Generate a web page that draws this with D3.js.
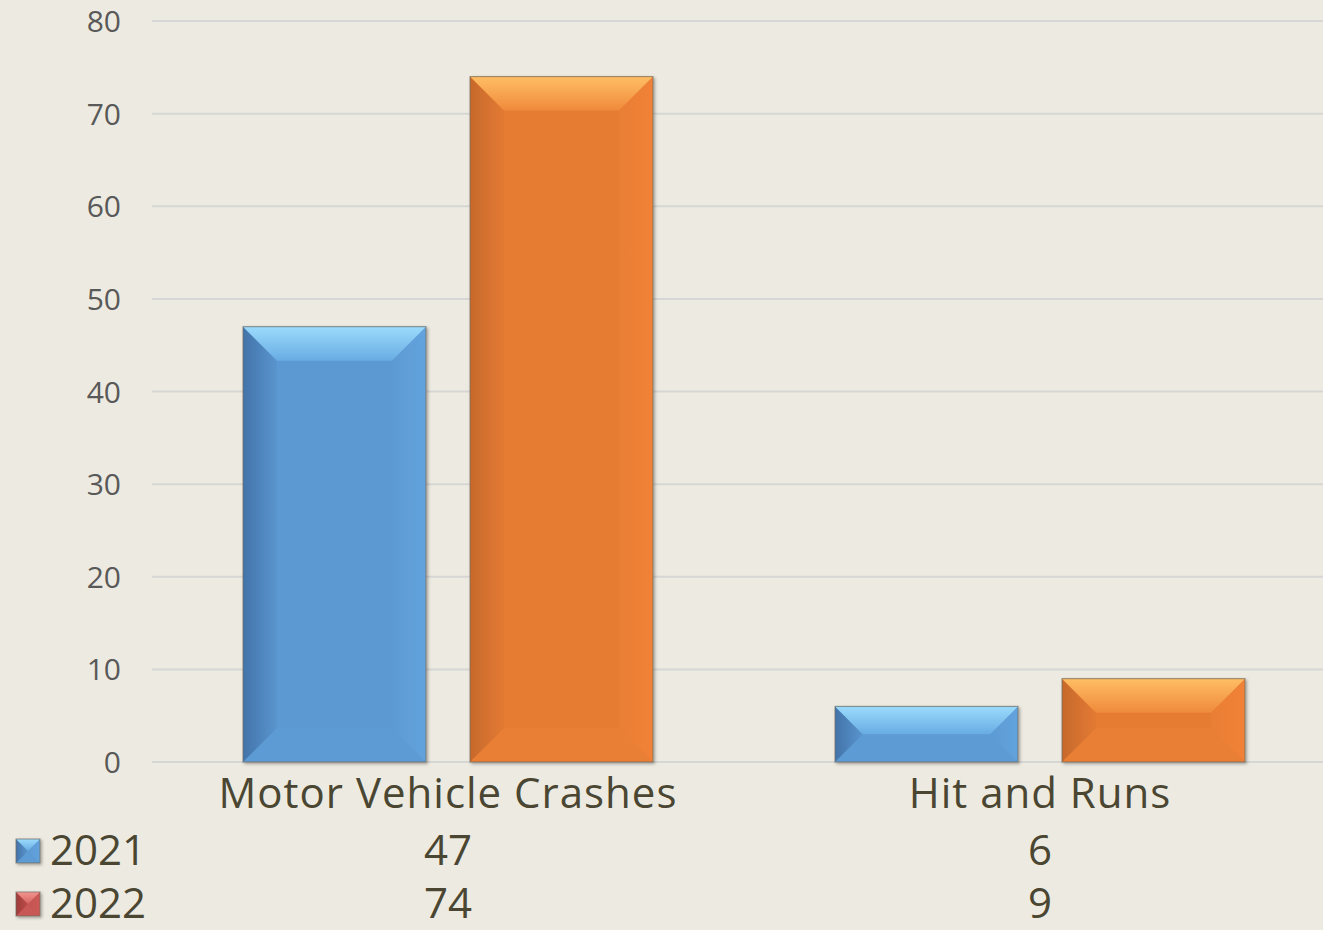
<!DOCTYPE html>
<html>
<head>
<meta charset="utf-8">
<script src="https://cdn.jsdelivr.net/npm/d3@7"></script>
<style>
  html, body { margin: 0; padding: 0; background: #EDEBE1; overflow: hidden; }
  svg { display: block; }
</style>
</head>
<body>
<svg id="chart" width="1323" height="930"></svg>
<script>
const categories = ["Motor Vehicle Crashes", "Hit and Runs"];
const seriesNames = ["2021", "2022"];
const values2021 = [47, 6];
const values2022 = [74, 9];
const yTicks = [0, 10, 20, 30, 40, 50, 60, 70, 80];

const W = 1323, H = 930;
const svg = d3.select("#chart");
const FONT = "'Open Sans', 'DejaVu Sans', sans-serif";

const plotLeft = 152, plotRight = 1336, plotTop = 21, plotBottom = 762;

const x0 = d3.scaleBand().domain(categories).range([plotLeft, plotRight]).padding(0);
const x1 = d3.scaleBand().domain(seriesNames).range([0, x0.bandwidth()])
  .paddingInner(44 / 227).paddingOuter(91 / 227);
const y = d3.scaleLinear().domain([0, 80]).range([plotBottom, plotTop]);

const defs = svg.append("defs");
const palettes = {
  blue:   { face: "#5B98D1", topA: "#9BDBFC", topB: "#68ACE3", leftA: "#4273A9", leftB: "#5A95CE", rightA: "#5C9AD3", rightB: "#63A3DD", bottom: "#5D9BD5" },
  orange: { face: "#E67C33", topA: "#FFBE64", topB: "#EF8A3B", leftA: "#C7692B", leftB: "#E27A33", rightA: "#E97E34", rightB: "#F08237", bottom: "#E97E35" },
  red:    { face: "#C0504D", topA: "#F29591", topB: "#D7635F", leftA: "#9E3B38", leftB: "#BC4E4B", rightA: "#C45451", rightB: "#CC5B57", bottom: "#C85855" }
};
Object.entries(palettes).forEach(([k, p]) => {
  const gt = defs.append("linearGradient").attr("id", "top-" + k).attr("x1", 0).attr("y1", 0).attr("x2", 0).attr("y2", 1);
  gt.append("stop").attr("offset", "0%").attr("stop-color", p.topA);
  gt.append("stop").attr("offset", "100%").attr("stop-color", p.topB);
  const gl = defs.append("linearGradient").attr("id", "left-" + k).attr("x1", 0).attr("y1", 0).attr("x2", 1).attr("y2", 0);
  gl.append("stop").attr("offset", "0%").attr("stop-color", p.leftA);
  gl.append("stop").attr("offset", "100%").attr("stop-color", p.leftB);
  const gr = defs.append("linearGradient").attr("id", "right-" + k).attr("x1", 0).attr("y1", 0).attr("x2", 1).attr("y2", 0);
  gr.append("stop").attr("offset", "0%").attr("stop-color", p.rightA);
  gr.append("stop").attr("offset", "100%").attr("stop-color", p.rightB);
});
const shadow = defs.append("filter").attr("id", "shadow").attr("x", "-10%").attr("y", "-10%").attr("width", "130%").attr("height", "130%");
shadow.append("feDropShadow").attr("dx", 1.5).attr("dy", 1.5).attr("stdDeviation", 1.5).attr("flood-color", "#000").attr("flood-opacity", 0.35);

function bevelBox(g, x, yy, w, h, key, bMax) {
  const p = palettes[key];
  const b = Math.min(bMax, h / 2, w / 2);
  const grp = g.append("g").attr("filter", "url(#shadow)");
  grp.append("rect").attr("x", x).attr("y", yy).attr("width", w).attr("height", h).attr("fill", p.face);
  const pts = a => a.map(q => q.join(",")).join(" ");
  grp.append("polygon").attr("points", pts([[x, yy + h], [x + b, yy + h - b], [x + w - b, yy + h - b], [x + w, yy + h]])).attr("fill", p.bottom);
  grp.append("polygon").attr("points", pts([[x, yy], [x + b, yy + b], [x + b, yy + h - b], [x, yy + h]])).attr("fill", `url(#left-${key})`);
  grp.append("polygon").attr("points", pts([[x + w, yy], [x + w - b, yy + b], [x + w - b, yy + h - b], [x + w, yy + h]])).attr("fill", `url(#right-${key})`);
  grp.append("polygon").attr("points", pts([[x, yy], [x + w, yy], [x + w - b, yy + b], [x + b, yy + b]])).attr("fill", `url(#top-${key})`);
  grp.append("rect").attr("x", x).attr("y", yy).attr("width", w).attr("height", h)
    .attr("fill", "none").attr("stroke", "#6f6a60").attr("stroke-opacity", 0.6).attr("stroke-width", 1.2);
}

// gridlines
svg.append("g").selectAll("line").data(yTicks).join("line")
  .attr("x1", plotLeft).attr("x2", W)
  .attr("y1", d => y(d)).attr("y2", d => y(d))
  .attr("stroke", "#D6D6D4").attr("stroke-width", 2);

// y axis labels
const yAxis = d3.axisLeft(y).tickValues(yTicks).tickSize(0).tickPadding(0).tickFormat(d3.format("d"));
const ya = svg.append("g").attr("transform", `translate(121,0)`).call(yAxis);
ya.select(".domain").remove();
ya.selectAll("text").attr("font-family", FONT).attr("font-size", 30).attr("fill", "#595959").attr("dy", "0.35em");

// bars
const data = categories.map((c, i) => ({ cat: c, vals: [ { s: "2021", v: values2021[i], key: "blue" }, { s: "2022", v: values2022[i], key: "orange" } ] }));
const barsG = svg.append("g");
data.forEach(d => {
  d.vals.forEach(v => {
    const bx = x0(d.cat) + x1(v.s);
    bevelBox(barsG, bx, y(v.v), x1.bandwidth(), y(0) - y(v.v), v.key, 34);
  });
});

// category labels
svg.append("g").selectAll("text").data(categories).join("text")
  .attr("x", d => x0(d) + x0.bandwidth() / 2)
  .attr("y", 808)
  .attr("text-anchor", "middle")
  .attr("font-family", FONT).attr("font-size", 42).attr("letter-spacing", 1)
  .attr("fill", "#4A4632")
  .text(d => d);

// data table
const rows = [ { name: "2021", vals: values2021, key: "blue", yc: 850 }, { name: "2022", vals: values2022, key: "red", yc: 903 } ];
rows.forEach(r => {
  bevelBox(svg, 16, r.yc - 11, 24, 24, r.key, 12);
  svg.append("text").attr("x", 50).attr("y", r.yc).attr("dy", "0.36em")
    .attr("font-family", FONT).attr("font-size", 42).attr("fill", "#4A4632").text(r.name);
  svg.append("g").selectAll("text").data(categories).join("text")
    .attr("x", (d) => x0(d) + x0.bandwidth() / 2)
    .attr("y", r.yc).attr("dy", "0.36em")
    .attr("text-anchor", "middle")
    .attr("font-family", FONT).attr("font-size", 42).attr("fill", "#4A4632")
    .text((d, i) => r.vals[i]);
});
</script>
</body>
</html>
